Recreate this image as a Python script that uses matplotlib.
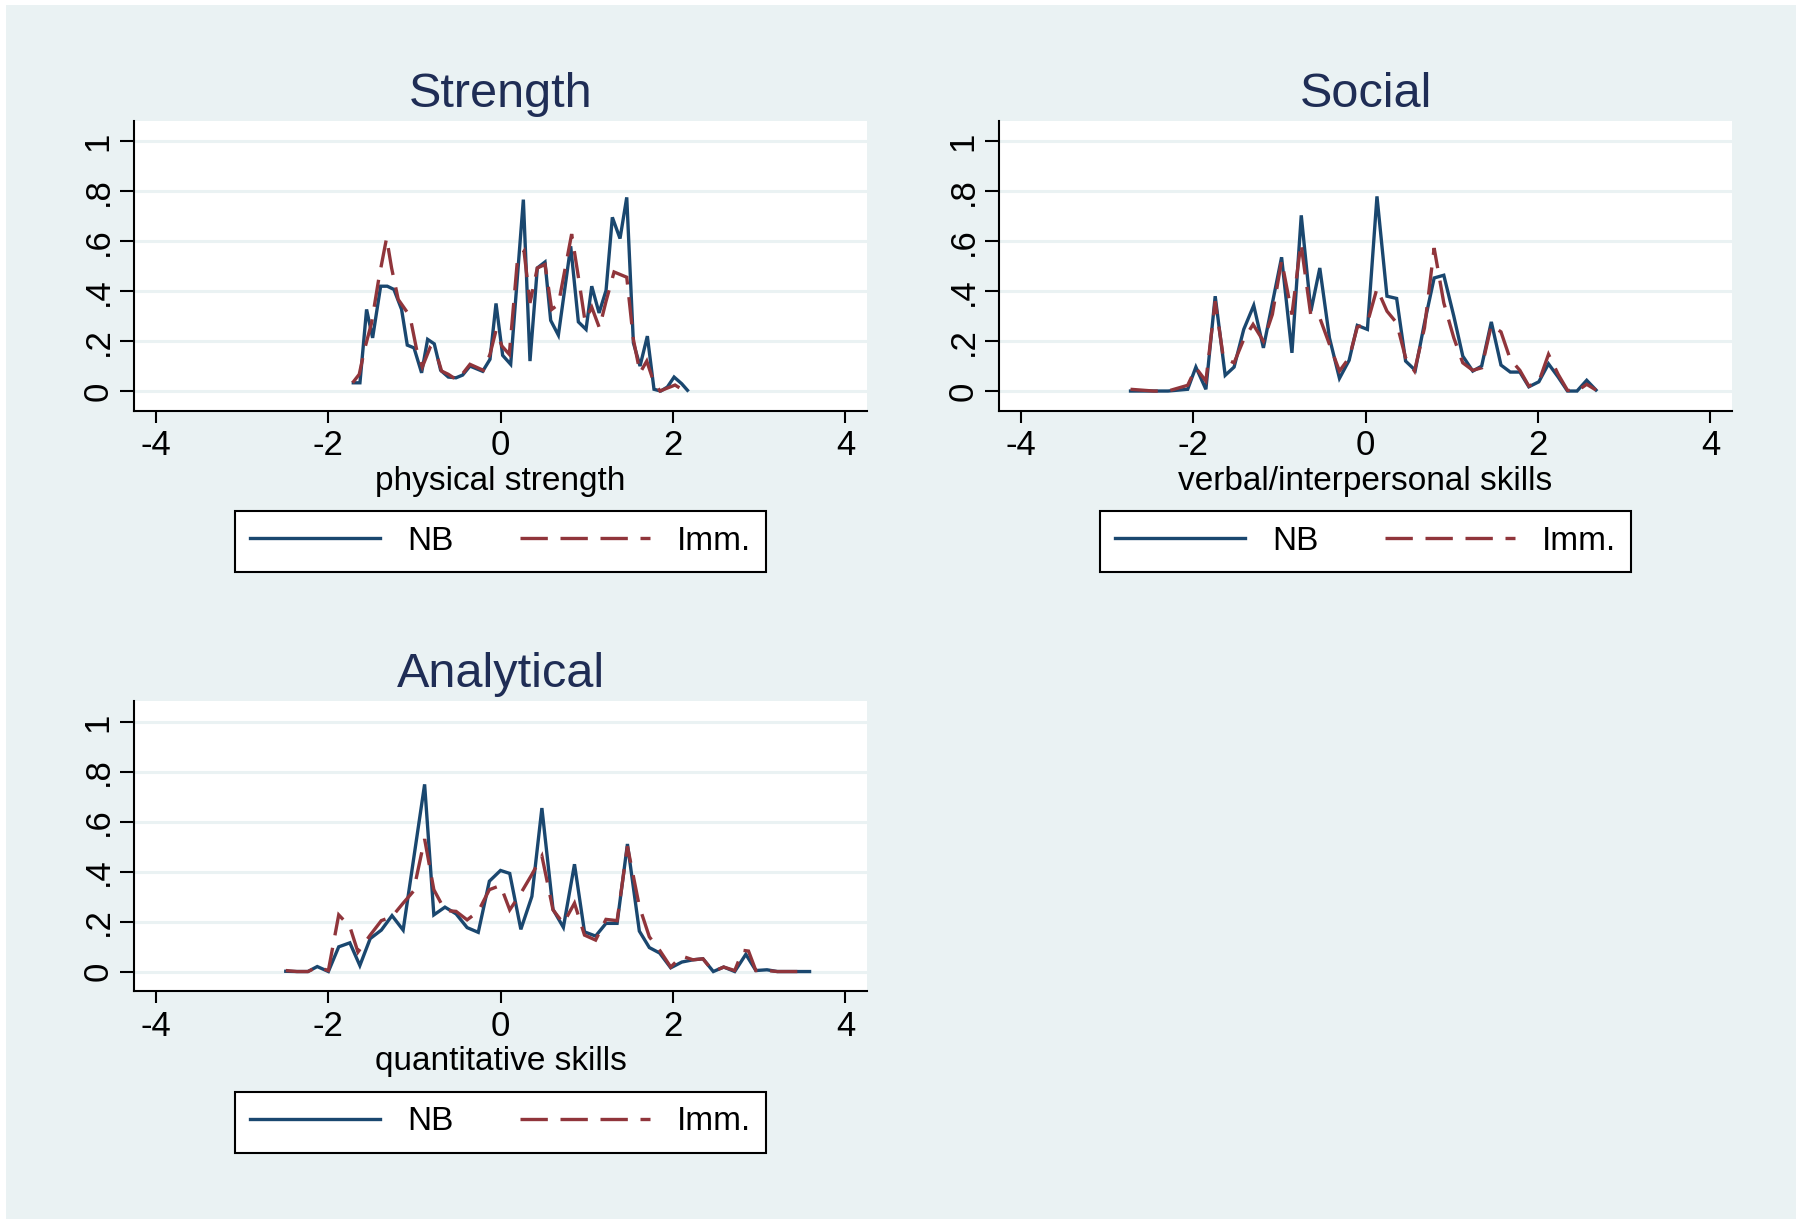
import matplotlib as mpl
import matplotlib.pyplot as plt
from matplotlib.lines import Line2D
from matplotlib.patches import Rectangle

mpl.rcParams['font.family'] = ['Liberation Sans', 'DejaVu Sans']
mpl.rcParams['axes.unicode_minus'] = False

# Strength: physical strength
str_nb_x = [-1.707, -1.630, -1.553, -1.483, -1.390, -1.313, -1.236, -1.147, -1.081, -1.003,
            -0.915, -0.845, -0.768, -0.694, -0.605, -0.516, -0.439, -0.354, -0.207, -0.122,
            -0.052, 0.025, 0.118, 0.265, 0.342, 0.427, 0.516, 0.582, 0.671, 0.814,
            0.903, 0.992, 1.058, 1.143, 1.224, 1.297, 1.386, 1.464, 1.541, 1.618,
            1.703, 1.780, 1.858, 1.935, 2.013, 2.102, 2.168]
str_nb_y = [0.033, 0.033, 0.327, 0.213, 0.42, 0.42, 0.407, 0.327, 0.184, 0.173,
            0.073, 0.207, 0.189, 0.083, 0.056, 0.053, 0.064, 0.1, 0.079, 0.127,
            0.351, 0.143, 0.107, 0.767, 0.12, 0.493, 0.517, 0.283, 0.224, 0.58,
            0.277, 0.247, 0.42, 0.313, 0.403, 0.696, 0.611, 0.776, 0.193, 0.1,
            0.22, 0.007, 0.0, 0.016, 0.056, 0.029, 0.003]
str_im_x = [-1.715, -1.638, -1.572, -1.495, -1.410, -1.321, -1.263, -1.186, -1.050, -0.973,
            -0.907, -0.818, -0.741, -0.683, -0.605, -0.501, -0.431, -0.354, -0.199, -0.122,
            -0.052, 0.017, 0.102, 0.195, 0.273, 0.342, 0.427, 0.516, 0.594, 0.671,
            0.825, 0.914, 0.980, 1.058, 1.147, 1.224, 1.317, 1.464, 1.541, 1.618,
            1.696, 1.773, 1.850, 1.928, 2.024, 2.075]
str_im_y = [0.033, 0.067, 0.173, 0.273, 0.453, 0.613, 0.493, 0.367, 0.3, 0.167,
            0.096, 0.173, 0.147, 0.08, 0.067, 0.043, 0.073, 0.107, 0.083, 0.147,
            0.243, 0.18, 0.147, 0.52, 0.56, 0.353, 0.493, 0.507, 0.327, 0.347,
            0.629, 0.433, 0.28, 0.336, 0.253, 0.36, 0.477, 0.456, 0.207, 0.073,
            0.12, 0.04, 0.0, 0.011, 0.024, 0.013]

# Social: verbal/interpersonal skills
soc_nb_x = [-2.725, -2.456, -2.290, -2.062, -1.967, -1.851, -1.743, -1.627, -1.524, -1.412,
            -1.296, -1.184, -0.973, -0.853, -0.745, -0.633, -0.530, -0.418, -0.302, -0.190,
            -0.095, 0.022, 0.133, 0.249, 0.361, 0.465, 0.577, 0.684, 0.796, 0.908,
            1.024, 1.128, 1.244, 1.347, 1.459, 1.571, 1.679, 1.790, 1.894, 2.010,
            2.122, 2.234, 2.342, 2.453, 2.565, 2.673]
soc_nb_y = [0.0, 0.0, 0.0, 0.007, 0.096, 0.007, 0.38, 0.063, 0.096, 0.247,
            0.343, 0.173, 0.536, 0.153, 0.704, 0.32, 0.493, 0.213, 0.051, 0.123,
            0.263, 0.247, 0.78, 0.38, 0.371, 0.12, 0.083, 0.273, 0.453, 0.464,
            0.3, 0.14, 0.08, 0.1, 0.277, 0.104, 0.076, 0.076, 0.017, 0.037,
            0.109, 0.056, 0.0, 0.0, 0.043, 0.004]
soc_im_x = [-2.725, -2.456, -2.290, -2.062, -1.967, -1.851, -1.743, -1.648, -1.524, -1.412,
            -1.304, -1.184, -1.080, -0.973, -0.853, -0.749, -0.633, -0.530, -0.418, -0.302,
            -0.190, -0.095, 0.022, 0.133, 0.249, 0.361, 0.465, 0.568, 0.684, 0.796,
            0.908, 1.024, 1.128, 1.244, 1.347, 1.459, 1.571, 1.679, 1.790, 1.894,
            2.010, 2.122, 2.234, 2.342, 2.453, 2.565, 2.673]
soc_im_y = [0.007, 0.0, 0.0, 0.023, 0.093, 0.04, 0.36, 0.133, 0.113, 0.207,
            0.267, 0.2, 0.307, 0.523, 0.307, 0.593, 0.3, 0.293, 0.187, 0.08,
            0.133, 0.256, 0.273, 0.411, 0.32, 0.273, 0.133, 0.08, 0.253, 0.573,
            0.353, 0.213, 0.113, 0.083, 0.093, 0.264, 0.237, 0.127, 0.083, 0.02,
            0.037, 0.147, 0.067, 0.003, 0.0, 0.027, 0.004]

# Analytical: quantitative skills
ana_nb_x = [-2.490, -2.361, -2.233, -2.125, -1.996, -1.876, -1.747, -1.631, -1.511, -1.382,
            -1.258, -1.129, -0.880, -0.773, -0.644, -0.515, -0.387, -0.258, -0.129, 0.0,
            0.107, 0.236, 0.364, 0.480, 0.609, 0.729, 0.858, 0.974, 1.103, 1.223,
            1.352, 1.472, 1.610, 1.726, 1.846, 1.974, 2.103, 2.232, 2.348, 2.468,
            2.588, 2.716, 2.845, 2.961, 3.090, 3.210, 3.326, 3.455, 3.584]
ana_nb_y = [0.001, 0.0, 0.0, 0.02, 0.0, 0.099, 0.115, 0.024, 0.132, 0.166,
            0.224, 0.166, 0.75, 0.227, 0.258, 0.231, 0.176, 0.157, 0.362, 0.405,
            0.393, 0.169, 0.301, 0.655, 0.249, 0.177, 0.43, 0.159, 0.142, 0.193,
            0.193, 0.511, 0.162, 0.096, 0.074, 0.015, 0.038, 0.047, 0.051, 0.0,
            0.018, 0.0, 0.069, 0.004, 0.007, 0.0, 0.0, 0.0, 0.0]
ana_im_x = [-2.490, -2.361, -2.233, -2.125, -1.996, -1.876, -1.747, -1.653, -1.511, -1.382,
            -1.258, -1.129, -1.009, -0.880, -0.773, -0.644, -0.515, -0.387, -0.258, -0.129,
            0.0, 0.107, 0.236, 0.364, 0.480, 0.609, 0.729, 0.858, 0.974, 1.103,
            1.223, 1.352, 1.472, 1.610, 1.726, 1.846, 1.974, 2.103, 2.232, 2.348,
            2.468, 2.588, 2.716, 2.811, 2.876, 2.961, 3.090, 3.210, 3.326, 3.455]
ana_im_y = [0.004, 0.0, 0.0, 0.018, 0.004, 0.227, 0.18, 0.078, 0.146, 0.204,
            0.22, 0.274, 0.322, 0.531, 0.328, 0.245, 0.241, 0.207, 0.241, 0.328,
            0.345, 0.247, 0.314, 0.389, 0.463, 0.247, 0.193, 0.274, 0.146, 0.126,
            0.209, 0.204, 0.502, 0.261, 0.139, 0.085, 0.018, 0.062, 0.047, 0.051,
            0.0, 0.018, 0.004, 0.085, 0.082, 0.004, 0.004, 0.0, 0.0, 0.0]

xticks = [-4, -2, 0, 2, 4]
xtick_labels = ['-4', '-2', '0', '2', '4']
yticks = [0, 0.2, 0.4, 0.6, 0.8, 1]
ytick_labels = ['0', '.2', '.4', '.6', '.8', '1']
series_names = ['NB', 'Imm.']

bg = '#eaf2f3'
navy = '#1a476f'
maroon = '#90353b'
title_col = '#1f2d55'
W, H = 1796, 1219
lw = 2.4
dash = (8.2, 3.8)

fig = plt.figure(figsize=(W / 100, H / 100), dpi=100)
fig.patch.set_facecolor('white')
fig.add_artist(Rectangle((6 / W, 0), 1, 1 - 5 / H, transform=fig.transFigure,
                         facecolor=bg, edgecolor='none', zorder=-5))


def panel(left_px, top_px, title, xlabel, nb_x, nb_y, im_x, im_y):
    w_px, h_px = 733, 290
    ax = fig.add_axes([left_px / W, 1 - (top_px + h_px) / H, w_px / W, h_px / H])
    ax.set_facecolor('white')
    ax.plot(nb_x, nb_y, color=navy, lw=lw, solid_joinstyle='miter', zorder=3)
    ax.plot(im_x, im_y, color=maroon, lw=lw, dashes=dash, dash_joinstyle='miter', zorder=4)
    ax.set_xlim(-4.25, 4.25)
    ax.set_ylim(-0.078, 1.084)
    ax.set_xticks(xticks)
    ax.set_xticklabels(xtick_labels)
    ax.set_yticks(yticks)
    ax.set_yticklabels(ytick_labels, rotation=90, va='center')
    ax.tick_params(axis='x', length=8.5, width=1.5, pad=5, labelsize=25)
    ax.tick_params(axis='y', length=10, width=1.5, pad=4, labelsize=25)
    ax.yaxis.grid(True, color=bg, lw=2.2)
    ax.set_axisbelow(True)
    for s in ['top', 'right']:
        ax.spines[s].set_visible(False)
    for s in ['left', 'bottom']:
        ax.spines[s].set_linewidth(1.5)
    ax.set_xlabel(xlabel, fontsize=24, labelpad=2.5)
    ax.text(0.5, 1.048, title, transform=ax.transAxes, ha='center', va='baseline',
            fontsize=35, color=title_col)

    handles = [Line2D([], [], color=navy, lw=lw),
               Line2D([], [], color=maroon, lw=lw, dashes=dash)]
    cx = (left_px + w_px / 2) / W
    cy = 1 - (top_px + h_px + 131) / H
    leg = ax.legend(handles, series_names, loc='center', bbox_to_anchor=(cx, cy),
                    bbox_transform=fig.transFigure, ncol=2, fontsize=24,
                    frameon=True, fancybox=False, framealpha=1, edgecolor='black',
                    handlelength=3.9, handletextpad=0.8, columnspacing=2.0,
                    borderpad=0.45)
    leg.get_frame().set_linewidth(1.5)
    return ax


panel(134, 120.5, 'Strength', 'physical strength', str_nb_x, str_nb_y, str_im_x, str_im_y)
panel(999, 120.5, 'Social', 'verbal/interpersonal skills', soc_nb_x, soc_nb_y, soc_im_x, soc_im_y)
panel(134, 701, 'Analytical', 'quantitative skills', ana_nb_x, ana_nb_y, ana_im_x, ana_im_y)

fig.savefig('out.png', dpi=100, facecolor=fig.get_facecolor())
